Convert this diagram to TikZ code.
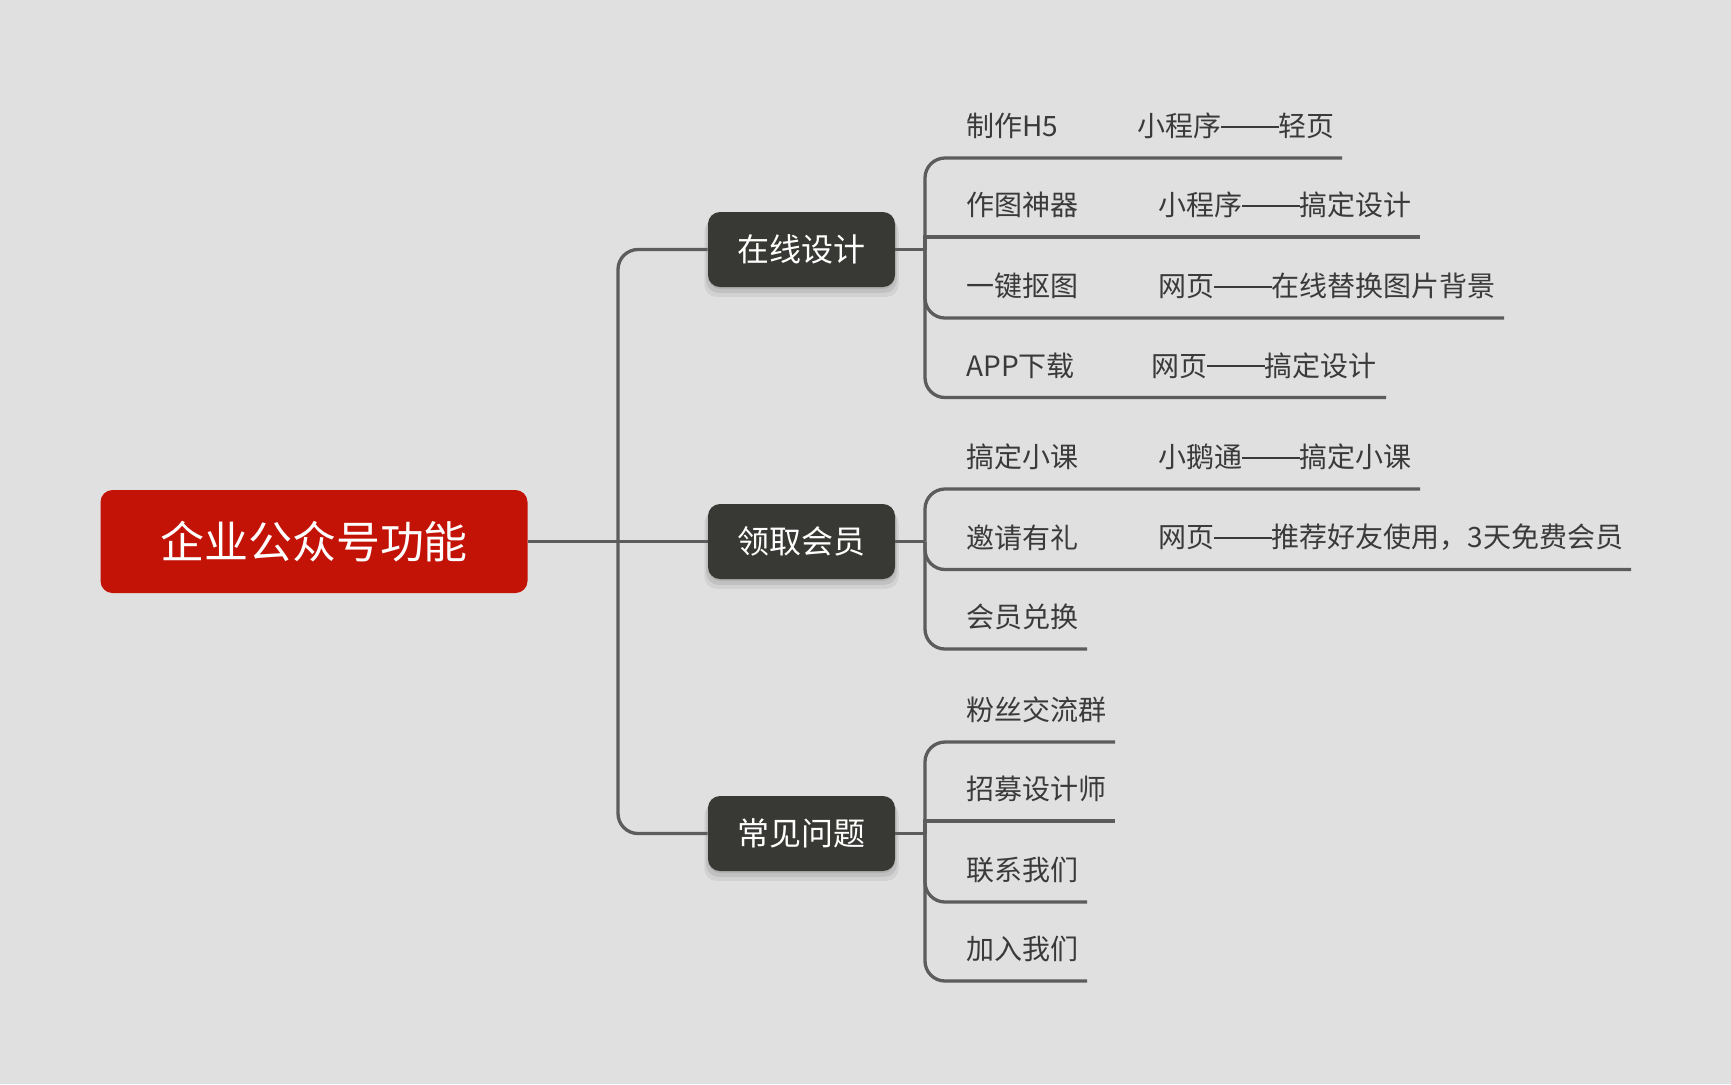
\documentclass[tikz,border=0pt]{standalone}
\usepackage{fontspec}
\setmainfont{Noto Sans CJK SC}
\usetikzlibrary{shadows}
\definecolor{bg}{RGB}{224,224,224}
\definecolor{dark}{RGB}{56,57,52}
\definecolor{rootred}{RGB}{195,18,6}
\definecolor{linegray}{RGB}{92,92,92}
\definecolor{txt}{RGB}{58,58,58}
\newcommand{\longdash}{\rule[0.32em]{2.05em}{0.075em}}
\begin{document}
\begin{tikzpicture}[x=0.5pt,y=-0.5pt,
  conn/.style={draw=linegray,line width=1.65pt,rounded corners=10pt},
  connsharp/.style={draw=linegray,line width=1.65pt},
  rootbox/.style={fill=rootred,text=white,rounded corners=6pt,minimum width=213.5pt,minimum height=51.5pt,inner sep=0pt,font=\fontsize{22}{26}\selectfont},
  topic/.style={fill=dark,text=white,rounded corners=6pt,minimum width=93.5pt,minimum height=37.5pt,inner sep=0pt,font=\fontsize{16}{19}\selectfont,
    drop shadow={shadow xshift=0pt,shadow yshift=-1pt,opacity=0.08,fill=black},
    drop shadow={shadow xshift=0pt,shadow yshift=-2.5pt,shadow scale=1.02,opacity=0.08,fill=black},
    drop shadow={shadow xshift=0pt,shadow yshift=-4pt,shadow scale=1.04,opacity=0.06,fill=black}},
  leaf/.style={text=txt,anchor=west,inner sep=0pt,font=\fontsize{14}{17}\selectfont}]

\fill[bg] (0,0) rectangle (1731,1084);
\useasboundingbox (0,0) rectangle (1731,1084);

% nodes
\node[rootbox] (root) at (314,541.5) {企业公众号功能};
\node[topic] (t1) at (801.5,249.5) {在线设计};
\node[topic] (t2) at (801.5,541.5) {领取会员};
\node[topic] (t3) at (801.5,833.5) {常见问题};

% trunk
\coordinate (tr) at (618,541.5);
\draw[connsharp] (root.east) -- (t2.west);
\draw[conn] (tr) |- (t1.west);
\draw[conn] (tr) |- (t3.west);

% group 1
\coordinate (b1) at (925,249.5);
\draw[connsharp] (t1.east) -- (b1);
\coordinate (e11) at (1342,158);
\coordinate (e12) at (1420,237);
\coordinate (e13) at (1504,318);
\coordinate (e14) at (1386,397.5);
\draw[conn] (b1) |- (e11);
\draw[connsharp] (b1) |- (e12);
\draw[conn] (b1) |- (e13);
\draw[conn] (b1) |- (e14);
\node[leaf] (l11) at (966,126) {制作H5};
\node[leaf] (r11) at (1137,126) {小程序\longdash 轻页};
\node[leaf] (l12) at (966,205) {作图神器};
\node[leaf] (r12) at (1158,205) {小程序\longdash 搞定设计};
\node[leaf] (l13) at (966,286) {一键抠图};
\node[leaf] (r13) at (1158,286) {网页\longdash 在线替换图片背景};
\node[leaf] (l14) at (966,365.5) {APP下载};
\node[leaf] (r14) at (1151,365.5) {网页\longdash 搞定设计};

% group 2
\coordinate (b2) at (925,541.5);
\draw[connsharp] (t2.east) -- (b2);
\coordinate (e21) at (1420,489);
\coordinate (e22) at (1631,569.5);
\coordinate (e23) at (1087,649);
\draw[conn] (b2) |- (e21);
\draw[conn] (b2) |- (e22);
\draw[conn] (b2) |- (e23);
\node[leaf] (l21) at (966,457) {搞定小课};
\node[leaf] (r21) at (1158,457) {小鹅通\longdash 搞定小课};
\node[leaf] (l22) at (966,537.5) {邀请有礼};
\node[leaf] (r22) at (1158,537.5) {网页\longdash 推荐好友使用，3天免费会员};
\node[leaf] (l23) at (966,617) {会员兑换};

% group 3
\coordinate (b3) at (925,833.5);
\draw[connsharp] (t3.east) -- (b3);
\coordinate (e31) at (1115,742);
\coordinate (e32) at (1115,821);
\coordinate (e33) at (1087,902);
\coordinate (e34) at (1087,981);
\draw[conn] (b3) |- (e31);
\draw[connsharp] (b3) |- (e32);
\draw[conn] (b3) |- (e33);
\draw[conn] (b3) |- (e34);
\node[leaf] (l31) at (966,710) {粉丝交流群};
\node[leaf] (l32) at (966,789) {招募设计师};
\node[leaf] (l33) at (966,870) {联系我们};
\node[leaf] (l34) at (966,949) {加入我们};
\end{tikzpicture}
\end{document}
